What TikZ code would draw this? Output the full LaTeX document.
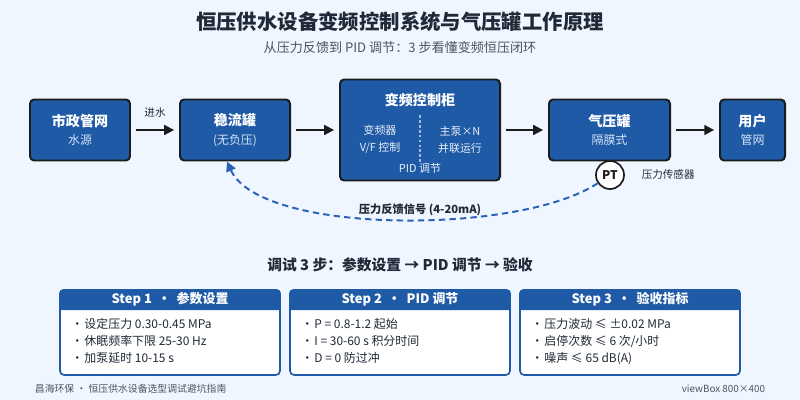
\documentclass[tikz,border=0pt]{standalone}
\usepackage{fontspec}
\setmainfont{Noto Sans CJK SC}
\usetikzlibrary{arrows.meta, positioning}
\definecolor{pagebg}{HTML}{EFF6FF}
\definecolor{boxblue}{HTML}{1F5AA6}
\definecolor{edgedark}{HTML}{1C1C1C}
\definecolor{titleink}{HTML}{1F2937}
\definecolor{greyink}{HTML}{4B5563}
\definecolor{subwhite}{HTML}{D5E3F6}
\definecolor{signalblue}{HTML}{2A62B6}
\newcommand{\boxsub}[1]{{\mdseries\fontsize{8.5}{13}\selectfont\color{subwhite}#1}}
\newcommand{\bul}{\makebox[0.325cm][l]{·}}
\tikzset{
  mainbox/.style={
    rectangle, rounded corners=3pt, draw=edgedark, line width=1.4pt,
    fill=boxblue, text=white, align=center, minimum width=#1,
    minimum height=1.525cm, font=\fontsize{10}{13}\selectfont\bfseries
  },
  flow/.style={-{Stealth[length=7pt, width=7pt, inset=0pt]}, line width=1.4pt,
    edgedark, shorten <=3.5pt, shorten >=3.5pt},
  feedback/.style={-{Stealth[length=7pt, width=7pt, inset=0pt]}, signalblue,
    line width=1.4pt, dash pattern=on 4.5pt off 3pt},
  divider/.style={subwhite!70!boxblue, line width=1pt, dash pattern=on 2pt off 1.5pt},
  sensor/.style={
    circle, draw=edgedark, line width=1.2pt, fill=white, minimum size=0.7cm,
    inner sep=0pt, text=edgedark, font=\fontsize{8.5}{10}\selectfont\bfseries
  },
  note/.style={font=\fontsize{7.5}{9}\selectfont, text=titleink},
  cabtext/.style={font=\fontsize{7.8}{12}\selectfont, text=white!90!boxblue,
    align=center},
  stepbox/.style={
    rectangle, rounded corners=3pt, draw=boxblue, line width=1.2pt, fill=white,
    minimum width=5.5cm, minimum height=2.125cm, inner sep=0pt
  },
  stephead/.style={text=white, font=\fontsize{9.2}{11}\selectfont\bfseries},
  stepitems/.style={anchor=north west, align=left, inner sep=0pt,
    text=titleink, font=\fontsize{8.5}{12.1}\selectfont}
}
% one step card: name, x centre, header, items
\newcommand{\stepcard}[4]{%
  \node[stepbox] (#1) at (#2,332.5) {};
  \fill[boxblue] ([yshift=-0.525cm]#1.north west) [rounded corners=3pt]
    -- (#1.north west) -- (#1.north east) [sharp corners]
    -- ([yshift=-0.525cm]#1.north east) -- cycle;
  \node[stephead] (#1-head) at ([yshift=-0.2625cm]#1.north) {#3};
  \node[stepitems] (#1-items) at ([xshift=0.3cm, yshift=-0.725cm]#1.north west) {#4};
}

\begin{document}
\begin{tikzpicture}[x=0.025cm, y=-0.025cm]
  \useasboundingbox (0,0) rectangle (800,400);
  \fill[pagebg] (0,0) rectangle (800,400);

  \node[font=\fontsize{14.5}{16}\selectfont\bfseries, text=titleink] (title)
    at (400,22) {恒压供水设备变频控制系统与气压罐工作原理};
  \node[font=\fontsize{9.3}{11}\selectfont, text=greyink] (subtitle)
    at (400,47) {从压力反馈到 PID 调节：3 步看懂变频恒压闭环};

  % main chain
  \node[mainbox=2.5cm] (src) at (80,130) {市政管网\\\boxsub{水源}};
  \node[mainbox=2.75cm] (buf) at (235,130) {稳流罐\\\boxsub{(无负压)}};
  \node[mainbox=4cm, minimum height=2.525cm] (cab) at (420,130) {};
  \node[mainbox=3.025cm] (tank) at (609.5,130) {气压罐\\\boxsub{隔膜式}};
  \node[mainbox=1.625cm] (user) at (752.5,130) {用户\\\boxsub{管网}};

  \node[text=white, font=\fontsize{10}{12}\selectfont\bfseries] (cabtitle)
    at (420,100) {变频控制柜};
  \draw[divider] ([yshift=0.375cm]cab.center) -- ([yshift=-0.825cm]cab.center);
  \node[cabtext] (cabl) at (380,139.5) {变频器\\V/F 控制};
  \node[cabtext] (cabr) at (460,139.5) {主泵×N\\并联运行};
  \node[cabtext] (cabpid) at (420,168) {PID 调节};

  \draw[flow] (src) -- node[note, above=5pt] (inlet) {进水} (buf);
  \foreach \a/\b in {buf/cab, cab/tank, tank/user}{%
    \draw[flow] (\a) -- (\b);}

  % pressure feedback loop
  \node[sensor] (pt) at (610,175) {PT};
  \node[note, right=0.3cm of pt] (ptlabel) {压力传感器};
  \draw[feedback] (pt) .. controls (520,235) and (260,235) .. ([xshift=-0.2cm]buf.south);
  \node[text=titleink, font=\fontsize{8}{10}\selectfont\bfseries] (fbtext)
    at (420,210) {压力反馈信号 (4-20mA)};

  \node[text=titleink, font=\fontsize{10.5}{12}\selectfont\bfseries] (steps)
    at (400,265) {调试 3 步：参数设置 → PID 调节 → 验收};

  \stepcard{s1}{170}{Step 1 ~·~ 参数设置}
    {\bul 设定压力 0.30-0.45 MPa\\\bul 休眠频率下限 25-30 Hz\\\bul 加泵延时 10-15 s}
  \stepcard{s2}{400}{Step 2 ~·~ PID 调节}
    {\bul P = 0.8-1.2 起始\\\bul I = 30-60 s 积分时间\\\bul D = 0 防过冲}
  \stepcard{s3}{630}{Step 3 ~·~ 验收指标}
    {\bul 压力波动 ≤ ±0.02 MPa\\\bul 启停次数 ≤ 6 次/小时\\\bul 噪声 ≤ 65 dB(A)}

  \node[anchor=west, text=greyink, font=\fontsize{7}{9}\selectfont] (footl)
    at (30,389) {昌海环保 · 恒压供水设备选型调试避坑指南};
  \node[anchor=east, text=greyink, font=\fontsize{7}{9}\selectfont] (footr)
    at (770,389) {viewBox 800×400};
\end{tikzpicture}
\end{document}
